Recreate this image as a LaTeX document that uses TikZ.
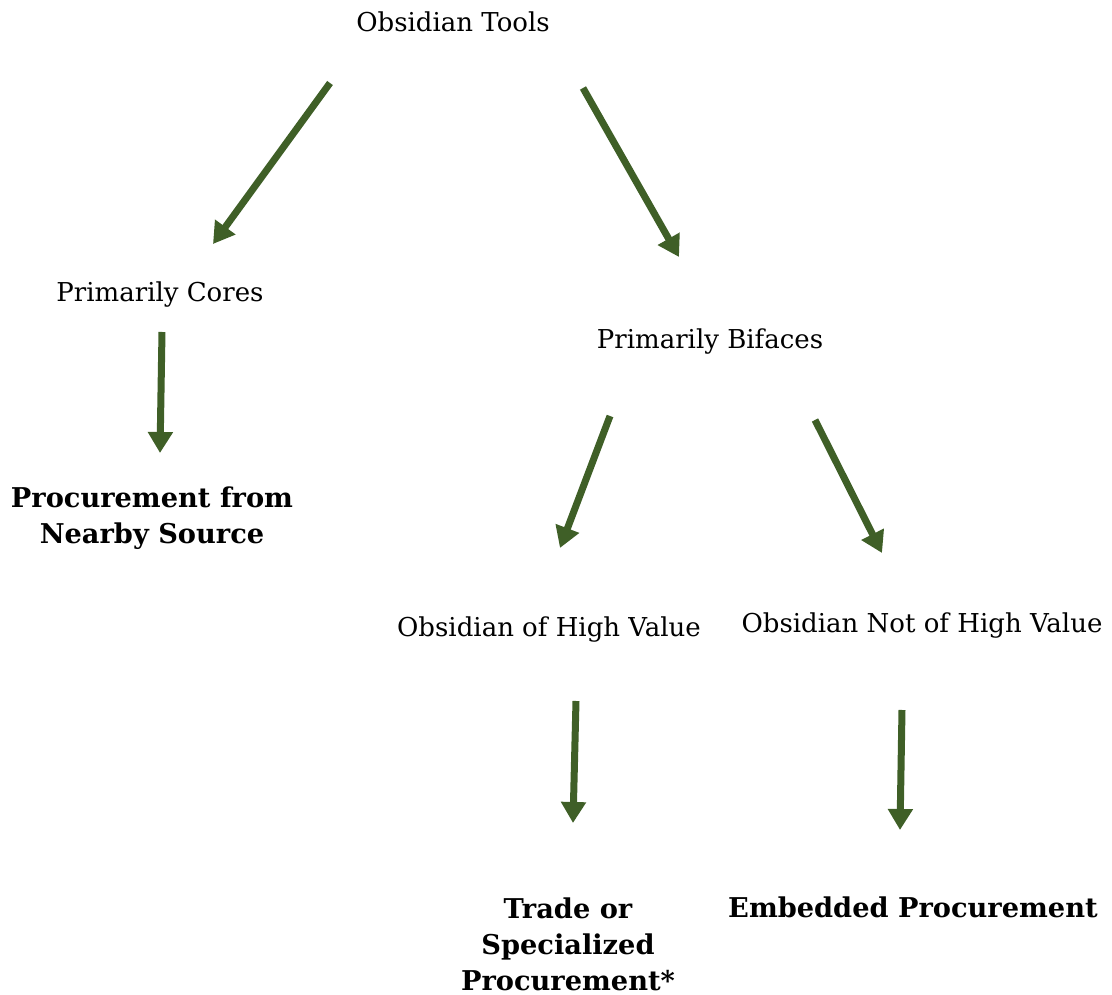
\documentclass[tikz,border=0pt]{standalone}
\usepackage{fontspec}
\setmainfont{DejaVu Serif}
\usepackage{tikz}
\usetikzlibrary{arrows.meta,positioning}
\definecolor{leaf}{RGB}{63,95,39}

\begin{document}
\begin{tikzpicture}[
      label node/.style={inner sep=0pt,align=center,font=\fontsize{14.8}{20.5}\selectfont},
      result node/.style={label node,font=\fontsize{15.5}{20.5}\selectfont\bfseries},
      big arrow/.style={draw,color=leaf,line width=0.14cm,-{Triangle[length=0.42cm,width=0.48cm]}}]
      \useasboundingbox (0,0) rectangle (22.24,-19.9);
      \node[label node] (tools) at (9.06,-0.44) {Obsidian Tools};
      \node[label node] (cores) at (3.2,-5.9) {Primarily Cores};
      \node[label node] (bifaces) at (14.2,-6.84) {Primarily Bifaces};
      \node[result node] (nearby) at (3.04,-10.36) {Procurement from\\Nearby Source};
      \node[label node] (high) at (10.98,-12.6) {Obsidian of High Value};
      \node[label node] (nothigh) at (18.44,-12.52) {Obsidian Not of High Value};
      \node[result node] (trade) at (11.36,-18.88) {Trade or\\Specialized\\Procurement*};
      \node[result node] (embedded) at (18.26,-18.14) {Embedded Procurement};

      \path
        ([shift={(-2.46,-1.22)}]tools.center) edge[big arrow] ([shift={(1.06,1.02)}]cores.center)
        ([shift={(2.6,-1.32)}]tools.center) edge[big arrow] ([shift={(-0.62,1.7)}]bifaces.center)
        ([shift={(0.04,-0.74)}]cores.center) edge[big arrow] ([shift={(0.16,1.3)}]nearby.center)
        ([shift={(-2.0,-1.48)}]bifaces.center) edge[big arrow] ([shift={(0.22,1.64)}]high.center)
        ([shift={(2.1,-1.56)}]bifaces.center) edge[big arrow] ([shift={(-0.8,1.46)}]nothigh.center)
        ([shift={(0.54,-1.42)}]high.center) edge[big arrow] ([shift={(0.1,2.42)}]trade.center)
        ([shift={(-0.4,-1.68)}]nothigh.center) edge[big arrow] ([shift={(-0.26,1.54)}]embedded.center);
    \end{tikzpicture}
\end{document}
